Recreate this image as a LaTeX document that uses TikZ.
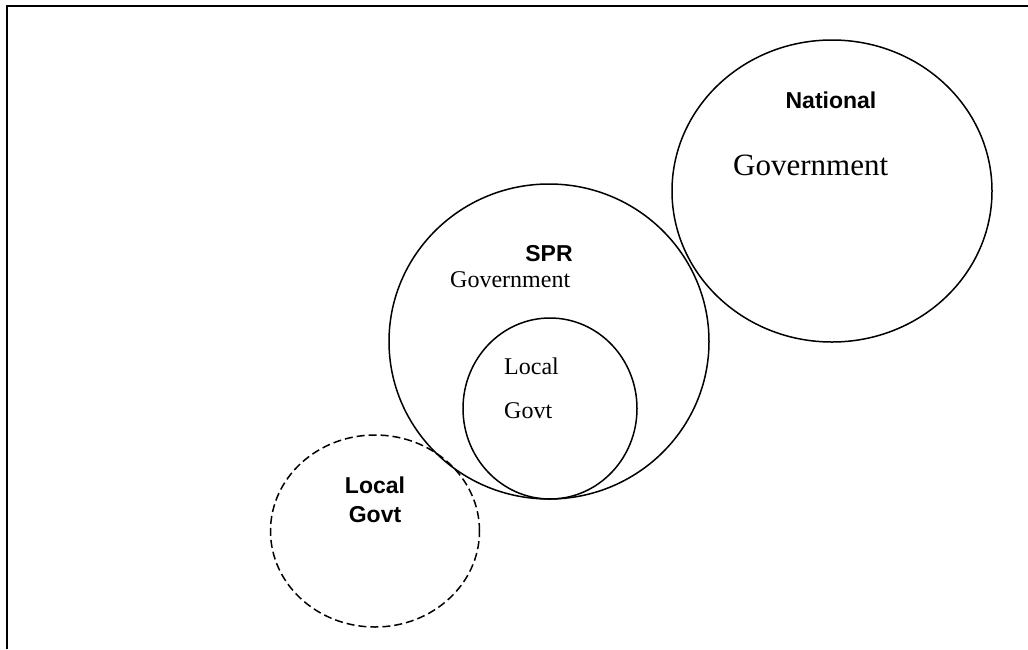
\documentclass[tikz,border=0pt]{standalone}
\usepackage{fontspec}
\setmainfont{Liberation Serif}
\setsansfont{Liberation Sans}
\usepackage{tikz}
\usetikzlibrary{shapes.geometric}
\tikzset{govt/.style={ellipse, draw=black, line width=1.5pt, inner sep=0pt},
  bold/.style={font=\sffamily\bfseries\fontsize{23}{26}\selectfont, inner sep=0pt, anchor=base},
  plain/.style={font=\fontsize{24}{27}\selectfont, inner sep=0pt, anchor=base west}}

\begin{document}
\begin{tikzpicture}[x=1pt,y=-1pt]
  \useasboundingbox (0,0) rectangle (1028,649);
  \draw[line width=2.2pt] (7,649) -- (7,6) -- (1028,6);

  \node[govt, minimum width=320pt, minimum height=302pt](nat) at (832,191){};
  \node[govt, minimum width=320pt, minimum height=315pt](spr) at (549,341.5){};
  \node[govt, minimum width=174pt, minimum height=181pt](loc) at (550,408.5){};
  \node[govt, dashed, dash pattern=on 8pt off 4pt, minimum width=209pt, minimum height=192pt](out) at (375,531){};

  \node[bold](natname) at (831,108){National};
  \node[plain, font=\fontsize{31}{34}\selectfont](natgov) at (733,175){Government};
  \node[bold](sprname) at (549,261){SPR};
  \node[plain](sprgov) at (450,287){Government};
  \node[plain](locname) at (504,374){Local};
  \node[plain](locgov) at (504,418){Govt};
  \node[bold](outname) at (375,493){Local};
  \node[bold](outgov) at (375,522){Govt};
\end{tikzpicture}
\end{document}
